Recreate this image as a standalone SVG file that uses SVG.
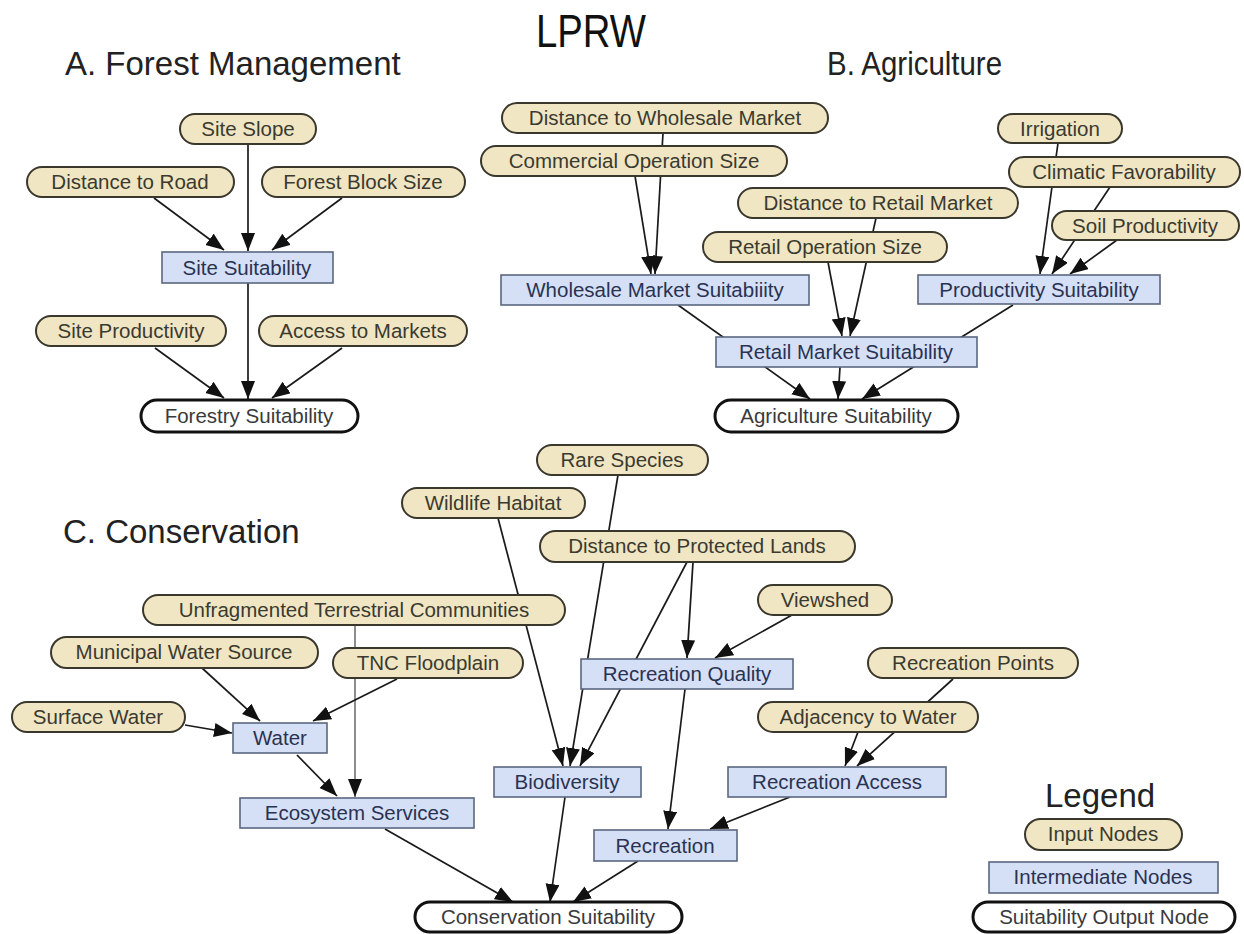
<svg xmlns="http://www.w3.org/2000/svg" width="1244" height="934" viewBox="0 0 1244 934">
<defs>
<marker id="ah" markerUnits="userSpaceOnUse" markerWidth="19" markerHeight="15" refX="18" refY="7" orient="auto">
<path d="M0,0 L18,7 L0,14 z" fill="#111"/>
</marker>
<style>
.t{font-family:"Liberation Sans",Arial,sans-serif;}
.h{font-family:"Liberation Sans",Arial,sans-serif;font-size:33px;fill:#222;}
.in rect{fill:#f1e6c3;stroke:#3a372c;stroke-width:2;}
.in text{font-family:"Liberation Sans",Arial,sans-serif;font-size:20.5px;fill:#3a3a30;text-anchor:middle;}
.mid rect{fill:#d5e0f6;stroke:#5b6680;stroke-width:1.6;}
.mid text{font-family:"Liberation Sans",Arial,sans-serif;font-size:20.5px;fill:#2a3252;text-anchor:middle;}
.out rect{fill:#ffffff;stroke:#111;stroke-width:3;}
.out text{font-family:"Liberation Sans",Arial,sans-serif;font-size:20.5px;fill:#3a3a3a;text-anchor:middle;}
.e line{stroke:#1a1a1a;stroke-width:1.7;marker-end:url(#ah);}
.e line.g{stroke:#7a7a7a;}
</style>
</defs>
<rect width="1244" height="934" fill="#ffffff"/>
<g id="titles">
<text class="t" x="591" y="47" font-size="46" fill="#111" text-anchor="middle" textLength="110" lengthAdjust="spacingAndGlyphs">LPRW</text>
<text class="h" x="65" y="75">A. Forest Management</text>
<text class="h" x="827" y="75" textLength="175" lengthAdjust="spacingAndGlyphs">B. Agriculture</text>
<text class="h" x="63" y="543">C. Conservation</text>
<text class="h" x="1045" y="807">Legend</text>
</g>
<g id="connectors" class="e">
<line x1="248" y1="144" x2="248" y2="251"/>
<line x1="154" y1="198" x2="224" y2="250"/>
<line x1="342" y1="198" x2="272" y2="250"/>
<line x1="248" y1="283" x2="248" y2="399"/>
<line x1="155" y1="348" x2="224" y2="398"/>
<line x1="342" y1="348" x2="272" y2="398"/>
<line x1="663" y1="133" x2="655" y2="274"/>
<line x1="635" y1="176" x2="651" y2="274"/>
<line x1="678" y1="305" x2="810" y2="399"/>
<line x1="876" y1="218" x2="850" y2="336"/>
<line x1="828" y1="262" x2="842" y2="336"/>
<line x1="840" y1="367" x2="838" y2="399"/>
<line x1="1013" y1="305" x2="862" y2="399"/>
<line x1="1058" y1="143" x2="1040" y2="274"/>
<line x1="1110" y1="187" x2="1052" y2="274"/>
<line x1="1117" y1="240" x2="1070" y2="274"/>
<line x1="618" y1="475" x2="570" y2="766"/>
<line x1="498" y1="518" x2="563" y2="766"/>
<line x1="687" y1="562" x2="580" y2="766"/>
<line x1="693" y1="562" x2="687" y2="658"/>
<line x1="792" y1="615" x2="715" y2="658"/>
<line class="g" x1="355" y1="625" x2="355" y2="797"/>
<line x1="202" y1="668" x2="260" y2="721"/>
<line x1="397" y1="679" x2="313" y2="721"/>
<line x1="185" y1="725" x2="232" y2="733"/>
<line x1="297" y1="755" x2="337" y2="796"/>
<line x1="385" y1="829" x2="513" y2="902"/>
<line x1="565" y1="797" x2="550" y2="902"/>
<line x1="638" y1="861" x2="573" y2="902"/>
<line x1="685" y1="689" x2="668" y2="829"/>
<line x1="790" y1="797" x2="710" y2="829"/>
<line x1="953" y1="679" x2="857" y2="766"/>
<line x1="858" y1="732" x2="845" y2="766"/>
</g>
<g id="site_slope" class="in"><rect x="180" y="114" width="136" height="30" rx="15"/><text x="248" y="136">Site Slope</text></g>
<g id="distance_to_road" class="in"><rect x="27" y="167" width="207" height="30" rx="15"/><text x="130" y="189">Distance to Road</text></g>
<g id="forest_block_size" class="in"><rect x="262" y="167" width="203" height="30" rx="15"/><text x="363" y="189">Forest Block Size</text></g>
<g id="site_suitability" class="mid"><rect x="162" y="252" width="171" height="31"/><text x="247" y="275">Site Suitability</text></g>
<g id="site_productivity" class="in"><rect x="36" y="316" width="190" height="30" rx="15"/><text x="131" y="338">Site Productivity</text></g>
<g id="access_to_markets" class="in"><rect x="259" y="316" width="208" height="30" rx="15"/><text x="363" y="338">Access to Markets</text></g>
<g id="forestry_suitability" class="out"><rect x="141" y="400" width="217" height="32" rx="16"/><text x="249" y="423">Forestry Suitability</text></g>
<g id="distance_to_wholesale_market" class="in"><rect x="502" y="103" width="326" height="30" rx="15"/><text x="665" y="125">Distance to Wholesale Market</text></g>
<g id="commercial_operation_size" class="in"><rect x="481" y="146" width="306" height="30" rx="15"/><text x="634" y="168">Commercial Operation Size</text></g>
<g id="wholesale_market_suitability" class="mid"><rect x="501" y="275" width="308" height="30"/><text x="655" y="297">Wholesale Market Suitabiiity</text></g>
<g id="distance_to_retail_market" class="in"><rect x="738" y="188" width="280" height="30" rx="15"/><text x="878" y="210">Distance to Retail Market</text></g>
<g id="retail_operation_size" class="in"><rect x="703" y="232" width="244" height="30" rx="15"/><text x="825" y="254">Retail Operation Size</text></g>
<g id="retail_market_suitability" class="mid"><rect x="716" y="337" width="261" height="30"/><text x="846" y="359">Retail Market Suitability</text></g>
<g id="agriculture_suitability" class="out"><rect x="715" y="400" width="243" height="32" rx="16"/><text x="836" y="423">Agriculture Suitability</text></g>
<g id="irrigation" class="in"><rect x="998" y="114" width="124" height="29" rx="14.5"/><text x="1060" y="136">Irrigation</text></g>
<g id="climatic_favorability" class="in"><rect x="1009" y="157" width="231" height="30" rx="15"/><text x="1124" y="179">Climatic Favorability</text></g>
<g id="soil_productivity" class="in"><rect x="1052" y="211" width="187" height="29" rx="14.5"/><text x="1145" y="233">Soil Productivity</text></g>
<g id="productivity_suitability" class="mid"><rect x="918" y="275" width="242" height="29"/><text x="1039" y="297">Productivity Suitability</text></g>
<g id="rare_species" class="in"><rect x="537" y="445" width="171" height="30" rx="15"/><text x="622" y="467">Rare Species</text></g>
<g id="wildlife_habitat" class="in"><rect x="402" y="488" width="183" height="30" rx="15"/><text x="493" y="510">Wildlife Habitat</text></g>
<g id="distance_to_protected_lands" class="in"><rect x="540" y="531" width="315" height="31" rx="15.5"/><text x="697" y="553">Distance to Protected Lands</text></g>
<g id="viewshed" class="in"><rect x="758" y="585" width="134" height="30" rx="15"/><text x="825" y="607">Viewshed</text></g>
<g id="unfragmented_terrestrial_communities" class="in"><rect x="143" y="595" width="422" height="30" rx="15"/><text x="354" y="617">Unfragmented Terrestrial Communities</text></g>
<g id="municipal_water_source" class="in"><rect x="51" y="637" width="267" height="31" rx="15.5"/><text x="184" y="659">Municipal Water Source</text></g>
<g id="tnc_floodplain" class="in"><rect x="333" y="648" width="190" height="30" rx="15"/><text x="428" y="670">TNC Floodplain</text></g>
<g id="surface_water" class="in"><rect x="12" y="702" width="173" height="30" rx="15"/><text x="98" y="724">Surface Water</text></g>
<g id="water" class="mid"><rect x="233" y="723" width="94" height="30"/><text x="280" y="745">Water</text></g>
<g id="ecosystem_services" class="mid"><rect x="240" y="798" width="234" height="30"/><text x="357" y="820">Ecosystem Services</text></g>
<g id="biodiversity" class="mid"><rect x="494" y="767" width="147" height="30"/><text x="567" y="789">Biodiversity</text></g>
<g id="recreation_quality" class="mid"><rect x="581" y="659" width="212" height="30"/><text x="687" y="681">Recreation Quality</text></g>
<g id="recreation_points" class="in"><rect x="868" y="648" width="210" height="30" rx="15"/><text x="973" y="670">Recreation Points</text></g>
<g id="adjacency_to_water" class="in"><rect x="758" y="702" width="220" height="30" rx="15"/><text x="868" y="724">Adjacency to Water</text></g>
<g id="recreation_access" class="mid"><rect x="728" y="767" width="218" height="30"/><text x="837" y="789">Recreation Access</text></g>
<g id="recreation" class="mid"><rect x="594" y="830" width="143" height="31"/><text x="665" y="853">Recreation</text></g>
<g id="conservation_suitability" class="out"><rect x="415" y="902" width="267" height="30" rx="15"/><text x="548" y="924">Conservation Suitability</text></g>
<g id="legend_input" class="in"><rect x="1025" y="819" width="157" height="31" rx="15.5"/><text x="1103" y="841">Input Nodes</text></g>
<g id="legend_intermediate" class="mid"><rect x="989" y="862" width="229" height="31"/><text x="1103" y="884">Intermediate Nodes</text></g>
<g id="legend_output" class="out"><rect x="973" y="902" width="262" height="30" rx="15"/><text x="1104" y="924">Suitability Output Node</text></g>
</svg>
